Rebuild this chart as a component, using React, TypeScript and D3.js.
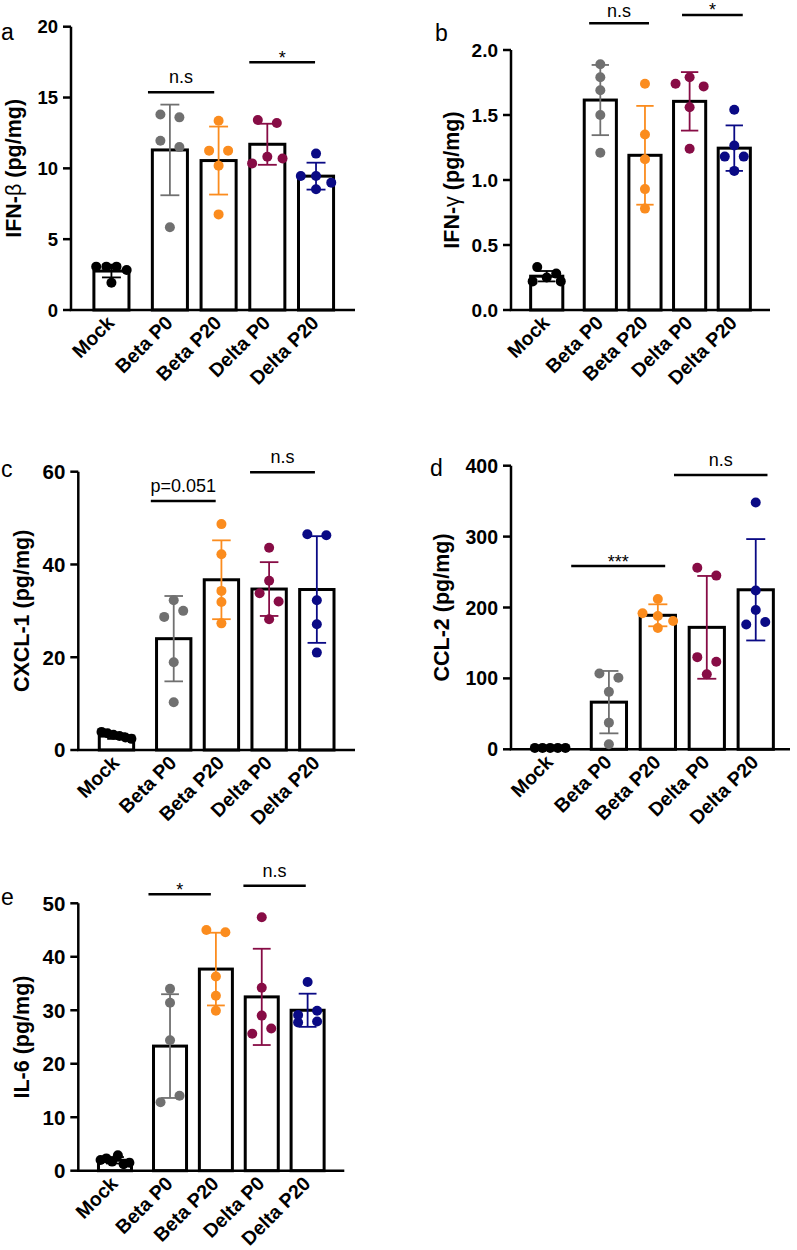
import React from 'react';
import * as d3 from 'd3';

// groups shared by every panel
const groups = ['Mock', 'Beta P0', 'Beta P20', 'Delta P0', 'Delta P20'];
const groupPos = [0, 1.2, 2.2, 3.2, 4.2];
const groupColors = ['#000000', '#707070', '#fb8c1e', '#870c45', '#0a0a85'];

// a - IFN-beta
const ifnbMean = [2.75, 11.3, 10.55, 11.7, 9.45];
const ifnbSd = [0.45, 3.2, 2.4, 1.45, 0.95];
const ifnbPoints = [
  [3.06, 3.06, 3.06, 2.82, 1.93],
  [13.8, 13.6, 11.95, 11.5, 5.84],
  [13.36, 11.25, 11.25, 10.19, 6.75],
  [13.41, 13.2, 10.35, 10.82, 10.7],
  [11.04, 9.46, 9.46, 8.99, 8.52],
];
const ifnbSig = [
  {from: 0.75, to: 2.11, level: 15.37, text: 'n.s'},
  {from: 2.83, to: 4.18, level: 17.49, text: '*'},
];

// b - IFN-gamma
const ifngMean = [0.26, 1.615, 1.19, 1.605, 1.245];
const ifngSd = [0.04, 0.27, 0.38, 0.225, 0.175];
const ifngPoints = [
  [0.33, 0.28, 0.22, 0.25, 0.22],
  [1.89, 1.79, 1.69, 1.5, 1.21],
  [1.74, 1.35, 1.16, 0.93, 0.78],
  [1.74, 1.79, 1.72, 1.56, 1.24],
  [1.54, 1.265, 1.18, 1.18, 1.07],
];
const ifngSig = [
  {from: 0.95, to: 2.29, level: 2.205, text: 'n.s'},
  {from: 3.03, to: 4.39, level: 2.27, text: '*'},
];

// c - CXCL-1
const cxclMean = [3.0, 24.0, 36.7, 34.7, 34.6];
const cxclSd = [0.6, 9.2, 8.5, 5.8, 11.5];
const cxclPoints = [
  [3.9, 3.6, 3.3, 3.0, 2.7, 2.4],
  [32.3, 28.7, 30.0, 18.9, 10.3],
  [48.7, 42.2, 34.3, 31.9, 27.3],
  [43.6, 36.5, 33.8, 32.0, 28.2],
  [46.5, 46.3, 32.3, 27.1, 21.0],
];
const cxclSig = [
  {from: 0.72, to: 2.08, level: 53.7, text: 'p=0.051'},
  {from: 2.8, to: 4.16, level: 59.9, text: 'n.s'},
];

// d - CCL-2
const cclMean = [2, 66.5, 189, 172, 225];
const cclSd = [0.8, 44, 15.5, 72.5, 71.5];
const cclPoints = [
  [2, 2, 2, 2, 2],
  [107, 101, 81, 37.6, 7],
  [212, 192, 188, 181, 171],
  [256, 245, 130, 123.6, 105.8],
  [348, 224, 196.5, 176, 179.5],
];
const cclSig = [
  {from: 0.43, to: 2.35, level: 258.5, text: '***'},
  {from: 2.53, to: 4.44, level: 386.9, text: 'n.s'},
];

// e - IL-6
const il6Mean = [1.95, 23.3, 37.7, 32.5, 30.0];
const il6Sd = [0.6, 9.7, 6.8, 9.0, 3.1];
const il6Points = [
  [2.0, 2.3, 1.7, 2.9, 1.2, 1.5],
  [34.0, 31.4, 24.4, 12.8, 14.0],
  [45.0, 44.6, 36.3, 32.7, 29.9],
  [47.4, 34.2, 29.0, 25.6, 26.6],
  [35.3, 27.7, 29.1, 29.9, 27.9],
];
const il6Sig = [
  {from: 0.73, to: 2.09, level: 51.7, text: '*'},
  {from: 2.8, to: 4.16, level: 53.3, text: 'n.s'},
];

const FONT = '"Liberation Sans", Arial, sans-serif';

const panels = [
  {letter: 'a', label: ['IFN-', 'β', ' (pg/mg)'], mean: ifnbMean, sd: ifnbSd, points: ifnbPoints, sig: ifnbSig,
    yMax: 20, yStep: 5, fmt: 'd', x0: 71, x1: 355, yTop: 26.7, yBot: 310, xDomain: [-0.83, 5.0],
    labelGap: 50, lx: 1, ly: 40, tickFs: 18.5},
  {letter: 'b', label: ['IFN-', 'γ', ' (pg/mg)'], mean: ifngMean, sd: ifngSd, points: ifngPoints, sig: ifngSig,
    yMax: 2, yStep: 0.5, fmt: '.1f', x0: 511, x1: 770, yTop: 50, yBot: 310, xDomain: [-0.8, 5.0],
    labelGap: 52, lx: 435, ly: 41, tickFs: 19},
  {letter: 'c', label: ['CXCL-1 (pg/mg)', '', ''], mean: cxclMean, sd: cxclSd, points: cxclPoints, sig: cxclSig,
    yMax: 60, yStep: 20, fmt: 'd', x0: 78.3, x1: 355, yTop: 471.7, yBot: 750, xDomain: [-0.8, 5.0],
    labelGap: 49, lx: 1, ly: 477, tickFs: 20.5},
  {letter: 'd', label: ['CCL-2 (pg/mg)', '', ''], mean: cclMean, sd: cclSd, points: cclPoints, sig: cclSig,
    yMax: 400, yStep: 100, fmt: 'd', x0: 511, x1: 790, yTop: 465.7, yBot: 749.3, xDomain: [-0.8, 4.9],
    labelGap: 62.5, lx: 430, ly: 476, tickFs: 19.5},
  {letter: 'e', label: ['IL-6 (pg/mg)', '', ''], mean: il6Mean, sd: il6Sd, points: il6Points, sig: il6Sig,
    yMax: 50, yStep: 10, fmt: 'd', x0: 78.3, x1: 344.3, yTop: 903.3, yBot: 1170.7, xDomain: [-0.8, 5.0],
    labelGap: 49, lx: 1, ly: 905, tickFs: 20.5},
];

// spread dots that sit at about the same height into a centred row
function swarm(vals: number[], y: any, bwOuter: number) {
  const order = vals.map((v, i) => i).sort((a, b) => vals[b] - vals[a]);
  const rows: any[] = [];
  let cur: any = null;
  order.forEach(i => {
    const py = y(vals[i]);
    if (cur && py - cur.py0 < 10) cur.items.push(i);
    else { cur = {py0: py, items: [i]}; rows.push(cur); }
  });
  const off = vals.map(() => 0);
  rows.forEach(r => {
    const n = r.items.length;
    if (n < 2) return;
    const s = Math.min(19, (0.8 * bwOuter) / (n - 1));
    r.items.sort((a: number, b: number) => a - b).forEach((i: number, k: number) => {
      off[i] = (k - (n - 1) / 2) * s;
    });
  });
  return off;
}

function Panel({cfg}: {cfg: any}) {
  const x = d3.scaleLinear().domain(cfg.xDomain).range([cfg.x0, cfg.x1]);
  const y = d3.scaleLinear().domain([0, cfg.yMax]).range([cfg.yBot, cfg.yTop]);
  const step = x(1) - x(0);
  const bw = 0.72 * step;
  const capW = 0.27 * bw;
  const r = 5;
  const ticks = d3.range(0, cfg.yMax + cfg.yStep / 2, cfg.yStep);
  const fmt = d3.format(cfg.fmt);
  const midY = (cfg.yTop + cfg.yBot) / 2;

  return (
    <g fontFamily={FONT}>
      <text x={cfg.lx} y={cfg.ly} fontSize={23}>{cfg.letter}</text>

      {/* bars */}
      {groups.map((g, i) => (
        <rect key={g} x={x(groupPos[i]) - bw / 2} y={y(cfg.mean[i])} width={bw}
          height={cfg.yBot - y(cfg.mean[i])} fill="#fff" stroke="#000" strokeWidth={3} />
      ))}

      {/* axes */}
      <line x1={cfg.x0} x2={cfg.x0} y1={cfg.yTop} y2={cfg.yBot} stroke="#000" strokeWidth={2.5} />
      <line x1={cfg.x0 - 1.25} x2={cfg.x1} y1={cfg.yBot} y2={cfg.yBot} stroke="#000" strokeWidth={2.5} />
      {ticks.map(t => (
        <g key={t}>
          <line x1={cfg.x0 - 8} x2={cfg.x0} y1={y(t)} y2={y(t)} stroke="#000" strokeWidth={2.5} />
          <text x={cfg.x0 - 13} y={y(t)} dy="0.36em" textAnchor="end" fontSize={cfg.tickFs} fontWeight="bold">{fmt(t)}</text>
        </g>
      ))}
      <text transform={`translate(${cfg.x0 - cfg.labelGap},${midY}) rotate(-90)`} textAnchor="middle"
        fontSize={21.5} fontWeight="bold">
        {cfg.label[0]}<tspan fontWeight="normal">{cfg.label[1]}</tspan>{cfg.label[2]}
      </text>
      {groups.map((g, i) => (
        <text key={g} transform={`translate(${x(groupPos[i]) + 4},${cfg.yBot + 14}) rotate(-45)`}
          textAnchor="end" fontSize={19.5} fontWeight="bold">{g}</text>
      ))}

      {/* error bars (SD) */}
      {groups.map((g, i) => {
        const cx = x(groupPos[i]);
        const hi = y(cfg.mean[i] + cfg.sd[i]);
        const lo = y(cfg.mean[i] - cfg.sd[i]);
        return (
          <g key={g} stroke={groupColors[i]} strokeWidth={1.8}>
            <line x1={cx} x2={cx} y1={hi} y2={lo} />
            <line x1={cx - capW} x2={cx + capW} y1={hi} y2={hi} />
            <line x1={cx - capW} x2={cx + capW} y1={lo} y2={lo} />
          </g>
        );
      })}

      {/* individual animals */}
      {groups.map((g, i) => {
        const off = swarm(cfg.points[i], y, bw + 3);
        return (
          <g key={g} fill={groupColors[i]}>
            {cfg.points[i].map((v: number, k: number) => (
              <circle key={k} cx={x(groupPos[i]) + off[k]} cy={y(v)} r={r} />
            ))}
          </g>
        );
      })}

      {/* significance */}
      {cfg.sig.map((s: any, k: number) => {
        const sx1 = x(s.from), sx2 = x(s.to), sy = y(s.level);
        const star = s.text.indexOf('*') === 0;
        // keep the label inside the page
        const ty = star ? sy + 1.5 : Math.max(sy - 9, 17);
        return (
          <g key={k}>
            <line x1={sx1} x2={sx2} y1={sy} y2={sy} stroke="#000" strokeWidth={2.5} />
            <text x={(sx1 + sx2) / 2} y={ty} textAnchor="middle" fontSize={18}>{s.text}</text>
          </g>
        );
      })}
    </g>
  );
}

export default function App() {
  return (
    <svg width={797} height={1250} style={{position: 'absolute', left: 0, top: 0, background: '#fff'}}>
      <rect width={797} height={1250} fill="#fff" />
      {panels.map(p => <Panel key={p.letter} cfg={p} />)}
    </svg>
  );
}
